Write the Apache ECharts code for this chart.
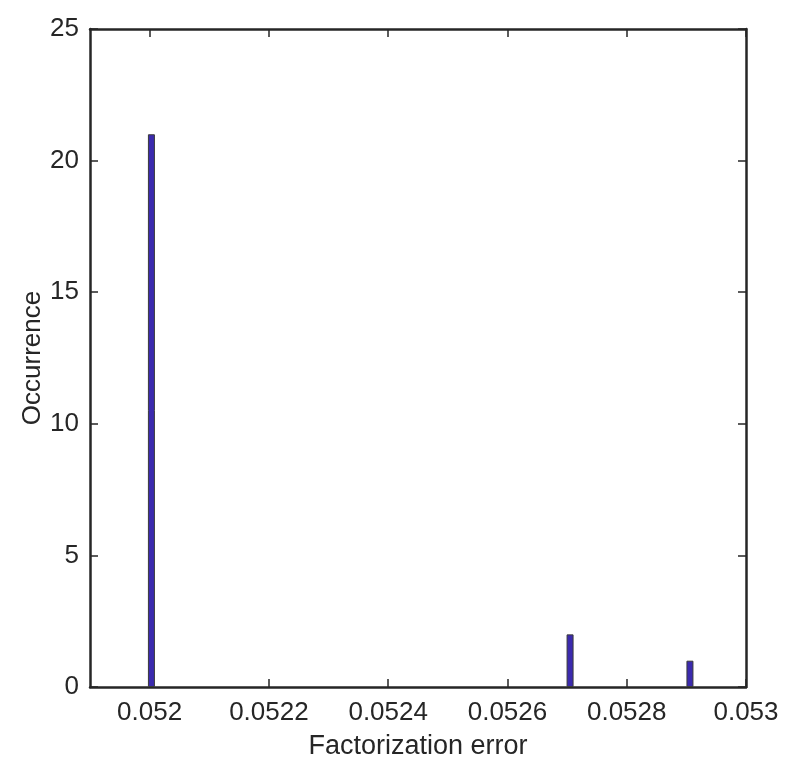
<!DOCTYPE html>
<html style="height: 100%">
<head>
  <meta charset="utf-8">
  <script type="text/javascript" src="https://cdn.jsdelivr.net/npm/echarts@6/dist/echarts.min.js"></script>
</head>
<body style="height: 100%; margin: 0; background: #fff">
  <div id="container" style="width: 799px; height: 776px"></div>
  <script type="text/javascript">
    // histogram bins (bin centre) and counts
    var binCenters = [0.052003, 0.052705, 0.052906];
    var counts = [21, 2, 1];
    var xTicks = [0.052, 0.0522, 0.0524, 0.0526, 0.0528, 0.053];

    var dom = document.getElementById('container');
    var myChart = echarts.init(dom, null, { renderer: 'canvas' });

    var axisColor = '#262626';
    var font = 'Liberation Sans, Arial, sans-serif';

    function boxAxis(base) {
      return Object.assign({
        axisLine: { show: true, onZero: false, lineStyle: { color: axisColor, width: 2.5 } },
        axisTick: { show: true, inside: true, length: 8, lineStyle: { color: axisColor, width: 1.5 } },
        splitLine: { show: false }
      }, base);
    }

    var option = {
      animation: false,
      backgroundColor: '#fff',
      grid: { left: 90, right: 53, top: 29, bottom: 89 },
      xAxis: [
        boxAxis({
          type: 'value',
          min: 0.0519,
          max: 0.053,
          position: 'bottom',
          name: 'Factorization error',
          nameLocation: 'middle',
          nameGap: 46,
          nameTextStyle: { fontFamily: font, fontSize: 27, color: axisColor },
          axisTick: { show: true, inside: true, length: 8, customValues: xTicks, lineStyle: { color: axisColor, width: 1.5 } },
          axisLabel: {
            customValues: xTicks,
            margin: 13,
            fontFamily: font,
            fontSize: 26,
            color: axisColor,
            formatter: function (v) { return String(+v.toFixed(4)); }
          }
        }),
        boxAxis({
          type: 'value',
          min: 0.0519,
          max: 0.053,
          position: 'top',
          axisTick: { show: true, inside: true, length: 8, customValues: xTicks, lineStyle: { color: axisColor, width: 1.5 } },
          axisLabel: { show: false }
        })
      ],
      yAxis: [
        boxAxis({
          type: 'value',
          min: 0,
          max: 25,
          interval: 5,
          position: 'left',
          name: 'Occurrence',
          nameLocation: 'middle',
          nameGap: 44,
          nameMoveOverlap: false,
          nameTextStyle: { fontFamily: font, fontSize: 26, color: axisColor },
          axisLabel: { margin: 11, fontFamily: font, fontSize: 26, color: axisColor }
        }),
        boxAxis({
          type: 'value',
          min: 0,
          max: 25,
          interval: 5,
          position: 'right',
          axisLabel: { show: false }
        })
      ],
      series: [
        {
          type: 'bar',
          xAxisIndex: 0,
          yAxisIndex: 0,
          barWidth: 7,
          itemStyle: { color: '#3b2aae', borderColor: '#3a3a3a', borderWidth: 1 },
          data: binCenters.map(function (x, i) { return [x, counts[i]]; })
        }
      ]
    };

    myChart.setOption(option);
  </script>
</body>
</html>
